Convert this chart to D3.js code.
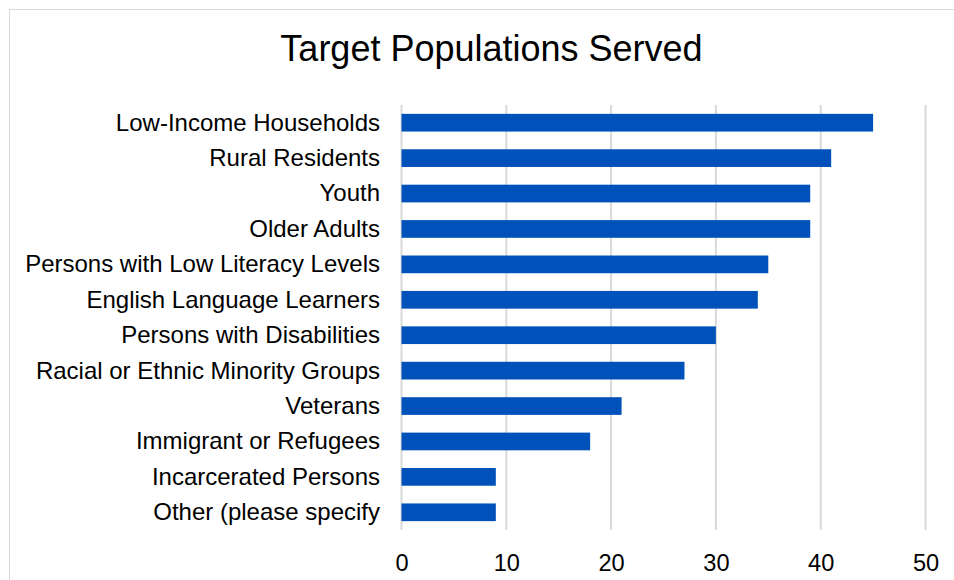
<!DOCTYPE html>
<html>
<head>
<meta charset="utf-8">
<script src="https://cdn.jsdelivr.net/npm/d3@7/dist/d3.min.js"></script>
<style>
  html, body { margin: 0; padding: 0; background: #fff; }
  svg { display: block; font-family: "Liberation Sans", Arial, sans-serif; }
</style>
</head>
<body>
<svg id="chart" width="954" height="580"></svg>
<script>
const categories = [
  "Low-Income Households",
  "Rural Residents",
  "Youth",
  "Older Adults",
  "Persons with Low Literacy Levels",
  "English Language Learners",
  "Persons with Disabilities",
  "Racial or Ethnic Minority Groups",
  "Veterans",
  "Immigrant or Refugees",
  "Incarcerated Persons",
  "Other (please specify"
];
const values = [45, 41, 39, 39, 35, 34, 30, 27, 21, 18, 9, 9];
const tickValues = [0, 10, 20, 30, 40, 50];
const title = "Target Populations Served";

const svg = d3.select("#chart");

// outer chart border
svg.append("rect")
  .attr("x", 9.5).attr("y", 9.5)
  .attr("width", 960).attr("height", 600)
  .attr("fill", "none").attr("stroke", "#d9d9d9").attr("stroke-width", 1);

const plot = { left: 401.5, right: 925.5, top: 105, bottom: 530 };

const x = d3.scaleLinear().domain([0, 50]).range([plot.left, plot.right]);
const y = d3.scaleBand().domain(categories).range([plot.top, plot.bottom]).paddingInner(0.5).paddingOuter(0.25);

// gridlines
svg.append("g").selectAll("line").data(tickValues).join("line")
  .attr("x1", d => x(d)).attr("x2", d => x(d))
  .attr("y1", plot.top).attr("y2", plot.bottom)
  .attr("stroke", "#d9d9d9").attr("stroke-width", 2);

// bars
svg.append("g").selectAll("rect").data(values).join("rect")
  .attr("x", x(0))
  .attr("y", (d, i) => y(categories[i]))
  .attr("width", d => x(d) - x(0))
  .attr("height", y.bandwidth())
  .attr("fill", "#0052BA");

// category axis (labels only)
const yAxis = d3.axisLeft(y).tickSize(0).tickPadding(21);
const gy = svg.append("g").attr("transform", `translate(${plot.left - 0.5},0)`).call(yAxis);
gy.select(".domain").remove();
gy.selectAll("text")
  .attr("font-size", "24px")
  .attr("font-family", "'Liberation Sans', Arial, sans-serif")
  .attr("fill", "#000")
  .attr("dy", "0.33em");

// value axis (labels only)
const xAxis = d3.axisBottom(x).tickValues(tickValues).tickSize(0).tickPadding(0);
const gx = svg.append("g").attr("transform", `translate(0,${plot.bottom})`).call(xAxis);
gx.select(".domain").remove();
gx.selectAll("text")
  .attr("font-size", "23.6px")
  .attr("font-family", "'Liberation Sans', Arial, sans-serif")
  .attr("fill", "#000")
  .attr("dy", null)
  .attr("y", 41);

// title
svg.append("text")
  .attr("x", 491.5).attr("y", 61)
  .attr("text-anchor", "middle")
  .attr("font-size", "36px")
  .attr("fill", "#000")
  .text(title);
</script>
</body>
</html>
